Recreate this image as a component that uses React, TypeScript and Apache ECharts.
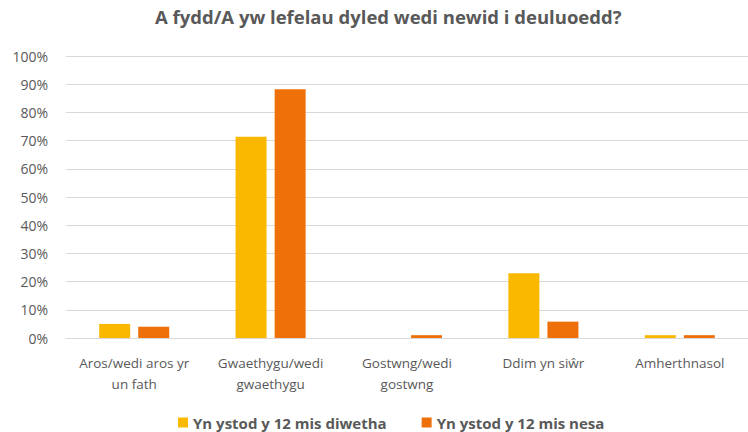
import React, { useEffect, useRef } from "react";
import * as echarts from "echarts";

const categories = [
  "Aros/wedi aros yr\nun fath",
  "Gwaethygu/wedi\ngwaethygu",
  "Gostwng/wedi\ngostwng",
  "Ddim yn siŵr",
  "Amherthnasol",
];
const seriesNames = ["Yn ystod y 12 mis diwetha", "Yn ystod y 12 mis nesa"];
const last12 = [5, 71.4, 0, 23, 1];
const next12 = [4, 88.2, 1, 5.8, 1];
const yTicks = { min: 0, max: 100, interval: 10 };

const FONT = "'Open Sans', Lato, sans-serif";
const GREY = "#595959";

export default function App() {
  const ref = useRef<HTMLDivElement>(null);
  useEffect(() => {
    if (!ref.current) return;
    const chart = echarts.init(ref.current, undefined, { renderer: "svg" });
    chart.setOption({
      animation: false,
      backgroundColor: "#ffffff",
      textStyle: { fontFamily: FONT },
      title: {
        text: "A fydd/A yw lefelau dyled wedi newid i deuluoedd?",
        left: 155,
        top: 7,
        padding: 0,
        textStyle: { fontFamily: FONT, fontSize: 18.5, fontWeight: "bold", color: GREY },
      },
      legend: {
        bottom: 2,
        left: 178,
        padding: 0,
        icon: "rect",
        itemWidth: 10,
        itemHeight: 10,
        itemGap: 35,
        textStyle: { fontFamily: FONT, fontSize: 15, fontWeight: "bold", color: GREY },
        data: seriesNames,
      },
      grid: { left: 66, right: -11, top: 56, bottom: 94, containLabel: false },
      xAxis: {
        type: "category",
        data: categories,
        axisLine: { lineStyle: { color: "#d9d9d9" } },
        axisTick: { show: false },
        axisLabel: { color: GREY, fontSize: 13.5, fontFamily: FONT, margin: 14, lineHeight: 21, interval: 0 },
      },
      yAxis: {
        type: "value",
        min: yTicks.min,
        max: yTicks.max,
        interval: yTicks.interval,
        axisLine: { show: false },
        axisTick: { show: false },
        splitLine: { lineStyle: { color: "#d9d9d9" } },
        axisLabel: { formatter: "{value}%", color: GREY, fontSize: 14, fontFamily: FONT, margin: 18 },
      },
      series: [
        {
          name: seriesNames[0],
          type: "bar",
          data: last12,
          barWidth: 31,
          barGap: "26%",
          itemStyle: { color: "#FBB800" },
        },
        {
          name: seriesNames[1],
          type: "bar",
          data: next12,
          barWidth: 31,
          itemStyle: { color: "#EE7008" },
        },
      ],
    });
    return () => chart.dispose();
  }, []);
  return (
    <div
      ref={ref}
      style={{ position: "fixed", left: 0, top: 0, width: 748, height: 432 }}
    />
  );
}
